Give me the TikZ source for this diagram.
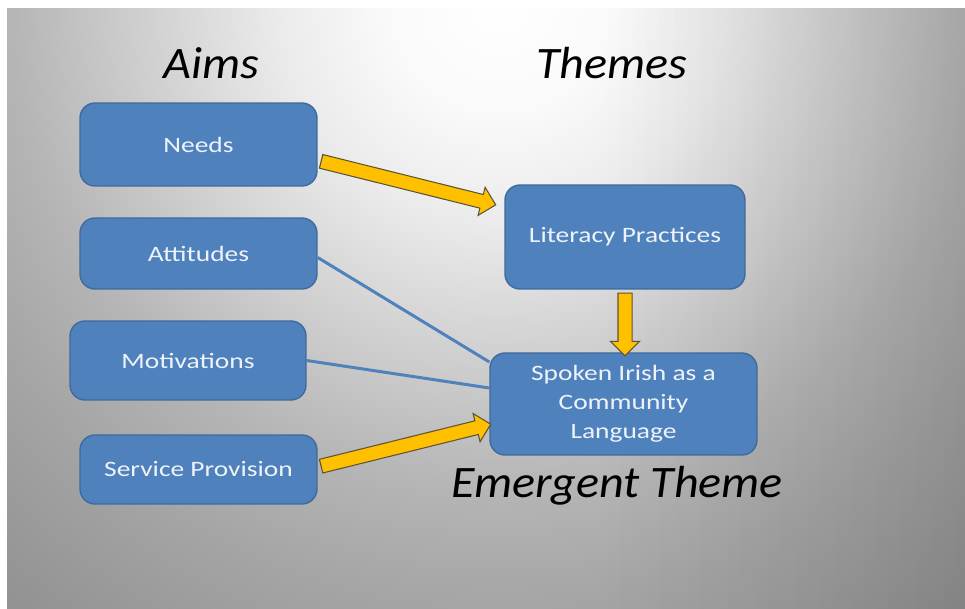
\documentclass[tikz,border=0pt]{standalone}
\usepackage{fontspec}
\setmainfont{Carlito}
\newfontfamily\boxfont[FakeStretch=1.25]{Carlito}
\newfontfamily\headfont[FakeStretch=1.07]{Carlito}
\usetikzlibrary{calc, positioning, shapes.arrows, fadings}
\definecolor{boxblue}{HTML}{4F81BD}
\definecolor{boxedge}{HTML}{3F6A9C}
\definecolor{boxtext}{HTML}{EEF3FA}
\definecolor{arrowgold}{HTML}{FFC000}
\definecolor{arrowedge}{HTML}{5E5236}
\pgfdeclareradialshading{slideglow}{\pgfpoint{0bp}{0bp}}{color(0bp)=(white);
  color(4bp)=(white!98!black); color(8bp)=(white!92!black);
  color(12.5bp)=(white!82!black); color(17.5bp)=(white!71!black);
  color(21.4bp)=(white!65!black); color(27.1bp)=(white!58!black);
  color(36bp)=(white!52!black)}
\tikzfading[name=rightdark, left color=transparent!100, right color=transparent!0]
\tikzset{
  aimbox/.style={draw=boxedge, fill=boxblue, line width=0.8pt,
    rounded corners=0.3cm, text=boxtext, align=center, inner sep=0pt,
    font=\boxfont\fontsize{12.5}{15.5}\selectfont},
  heading/.style={font=\headfont\itshape\fontsize{25.6}{30}\selectfont},
  link/.style={draw=boxblue, line width=1.7pt},
  goldtip/.style={single arrow, draw=arrowedge, fill=arrowgold, line width=0.6pt,
    inner xsep=0pt, inner ysep=0.13cm, single arrow head extend=0.15cm}
}
\newcommand{\goldarrow}[2]{%
  \path let \p1=($(#2)-(#1)$), \n1={veclen(\x1,\y1)} in
    (#1) -- (#2) node[midway, sloped, allow upside down, goldtip,
      minimum height=\n1]{};}

\begin{document}
\begin{tikzpicture}[x=0.02cm, y=-0.02cm]
  \useasboundingbox (0,0) rectangle (965,609);
  \begin{scope}
    \clip (7,8) rectangle (965,609);
    \shade[shading=slideglow] (-200,-700) rectangle (1200,700);
    \fill[black, opacity=0.16, path fading=rightdark] (600,8) rectangle (1150,609);
  \end{scope}
  % headings
  \node[heading] (aims) at (211,63) {Aims};
  \node[heading] (themes) at (612,63) {Themes};
  \node[heading] (emergent) at (617,486) {Emergent Theme};
  % aims
  \node[aimbox, minimum width=4.74cm, minimum height=1.66cm] (needs) at (198.5,144.5) {Needs};
  \node[aimbox, minimum width=4.74cm, minimum height=1.42cm] (attitudes) at (198.5,253.5) {Attitudes};
  \node[aimbox, minimum width=4.72cm, minimum height=1.58cm] (motiv) at (188,360.5) {Motivations};
  \node[aimbox, minimum width=4.74cm, minimum height=1.38cm] (service) at (198.5,469.5) {Service Provision};
  % themes
  \node[aimbox, minimum width=4.80cm, minimum height=2.08cm] (literacy) at (625,237) {Literacy Practices};
  \node[aimbox, minimum width=5.34cm, minimum height=2.04cm,
    font=\boxfont\fontsize{12.5}{16.5}\selectfont] (spoken) at (623.5,404)
    {Spoken Irish as a\\Community\\Language};
  % connectors
  \coordinate (needsout) at ($(needs.east)+(0,16)$);
  \coordinate (litin) at ($(literacy.west)+(-12,-33)$);
  \coordinate (serviceout) at ($(service.east)+(0,-2.5)$);
  \coordinate (spokenin) at ($(spoken.west)+(-2,21)$);
  \coordinate (spokentop) at (literacy.south |- spoken.north);
  \draw[link] ($(attitudes.east)+(0,4)$) -- ($(spoken.west)+(0,-42)$);
  \draw[link] (motiv.east) -- ($(spoken.west)+(0,-16)$);
  \goldarrow{needsout}{litin}
  \goldarrow{serviceout}{spokenin}
  \goldarrow{literacy.south}{spokentop}
\end{tikzpicture}
\end{document}
